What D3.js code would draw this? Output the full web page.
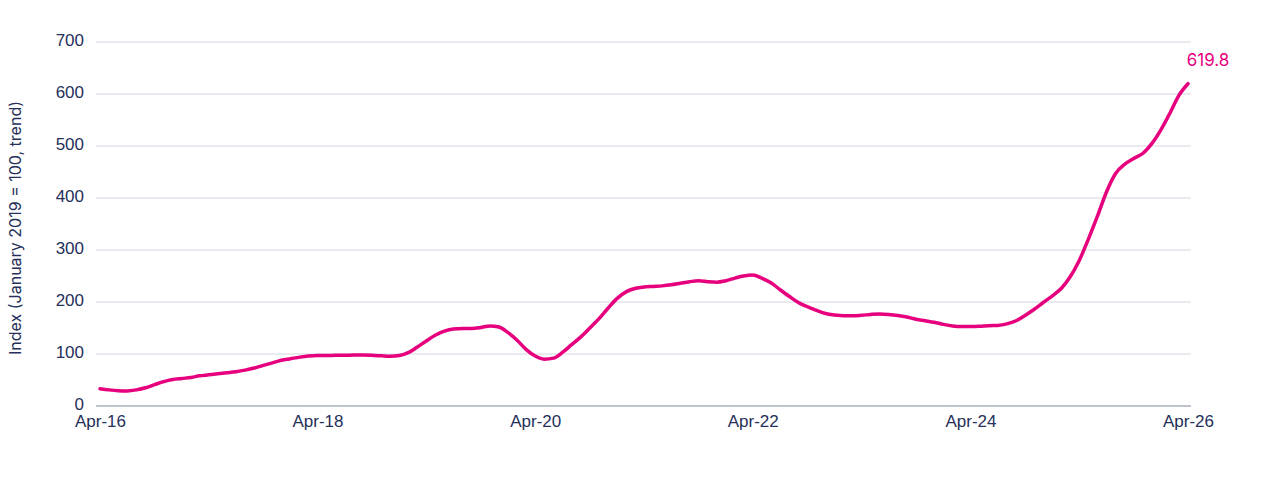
<!DOCTYPE html>
<html>
<head>
<meta charset="utf-8">
<script src="https://cdn.jsdelivr.net/npm/d3@7"></script>
<style>
  html, body { margin: 0; padding: 0; background: #fff; }
  svg { display: block; font-family: "Inter", "Lato", sans-serif; }
</style>
</head>
<body>
<svg id="chart" width="1270" height="482"></svg>
<script>
// monthly index values, Apr-16 .. Apr-26
const startMonth = "2016-04";
const endMonth = "2026-04";
const values = [
  33, 31, 29.5, 29, 31, 35, 41, 47, 51, 53, 55, 58,
  60, 62, 64, 66, 69, 73, 78, 83, 88, 91, 94, 96,
  97, 97, 97.5, 97.5, 98, 98, 97.5, 96.5, 95.5, 97, 103, 113,
  125, 136, 144, 148, 149, 149, 151, 154, 152, 141, 126, 109,
  96, 90, 92, 103, 118, 133, 150, 168, 188, 207, 220, 226,
  229, 230, 231, 233, 236, 239, 241, 239, 238, 241, 246, 250,
  252, 246, 237, 224, 211, 199, 191, 184, 178, 175, 173.5, 173.5,
  174.5, 176, 177, 176, 174, 171, 167, 164, 161, 157, 154, 153,
  153, 153.5, 154.5, 155, 158, 164, 174, 186, 199, 212, 227, 248,
  280, 320, 365, 411, 447, 465, 476, 486, 505, 532, 565, 597,
  619.8
];
const yTicks = [0, 100, 200, 300, 400, 500, 600, 700];
const xTickLabels = ["Apr-16", "Apr-18", "Apr-20", "Apr-22", "Apr-24", "Apr-26"];
const yTitle = "Index (January 2019 = 100, trend)";
const lastLabel = "619.8";

const parseMonth = d3.timeParse("%Y-%m");
const months = d3.timeMonth.range(parseMonth(startMonth), d3.timeMonth.offset(parseMonth(endMonth), 1));
const data = months.map((d, i) => ({ date: d, value: values[i] }));

const textColor = "#26305a";
const lineColor = "#e6007e";

const svg = d3.select("#chart");
const x = d3.scaleTime().domain([months[0], months[months.length - 1]]).range([100, 1188]);
const y = d3.scaleLinear().domain([0, 700]).range([406, 42]);

// gridlines
svg.append("g")
  .selectAll("line")
  .data(yTicks.filter(d => d > 0))
  .join("line")
  .attr("x1", 96).attr("x2", 1191)
  .attr("y1", d => y(d)).attr("y2", d => y(d))
  .attr("stroke", "#d3d6e2")
  .attr("stroke-width", 1);

// y axis labels
const yAxis = svg.append("g")
  .attr("transform", "translate(96,0)")
  .call(d3.axisLeft(y).tickValues(yTicks).tickSize(0).tickPadding(12));
yAxis.select(".domain").remove();
yAxis.selectAll("text")
  .attr("fill", textColor)
  .attr("dy", "0.2em")
  .style("font-size", "17px");

// x axis
const xTickDates = xTickLabels.map(s => d3.timeParse("%b-%y")(s));
const xAxis = svg.append("g")
  .attr("transform", "translate(0,406)")
  .call(d3.axisBottom(x).tickValues(xTickDates).tickSize(0).tickPadding(10)
    .tickFormat(d3.timeFormat("%b-%y")));
xAxis.select(".domain")
  .attr("d", "M96,0H1191")
  .attr("stroke", "#a9aec2")
  .attr("stroke-width", 1.5);
xAxis.selectAll("text")
  .attr("fill", textColor)
  .attr("dy", "0.65em")
  .style("font-size", "17px");

// y title
svg.append("text")
  .attr("transform", "translate(21,228) rotate(-90)")
  .attr("text-anchor", "middle")
  .attr("fill", textColor)
  .style("font-size", "16px")
  .text(yTitle);

// line
const line = d3.line()
  .curve(d3.curveMonotoneX)
  .x(d => x(d.date))
  .y(d => y(d.value));

svg.append("path")
  .datum(data)
  .attr("d", line)
  .attr("fill", "none")
  .attr("stroke", lineColor)
  .attr("stroke-width", 3.5)
  .attr("stroke-linejoin", "round")
  .attr("stroke-linecap", "round");

// end label
const last = data[data.length - 1];
svg.append("text")
  .attr("x", x(last.date) + 20)
  .attr("y", y(last.value) - 18)
  .attr("text-anchor", "middle")
  .attr("fill", lineColor)
  .style("font-size", "17px")
  .text(lastLabel);
</script>
</body>
</html>
